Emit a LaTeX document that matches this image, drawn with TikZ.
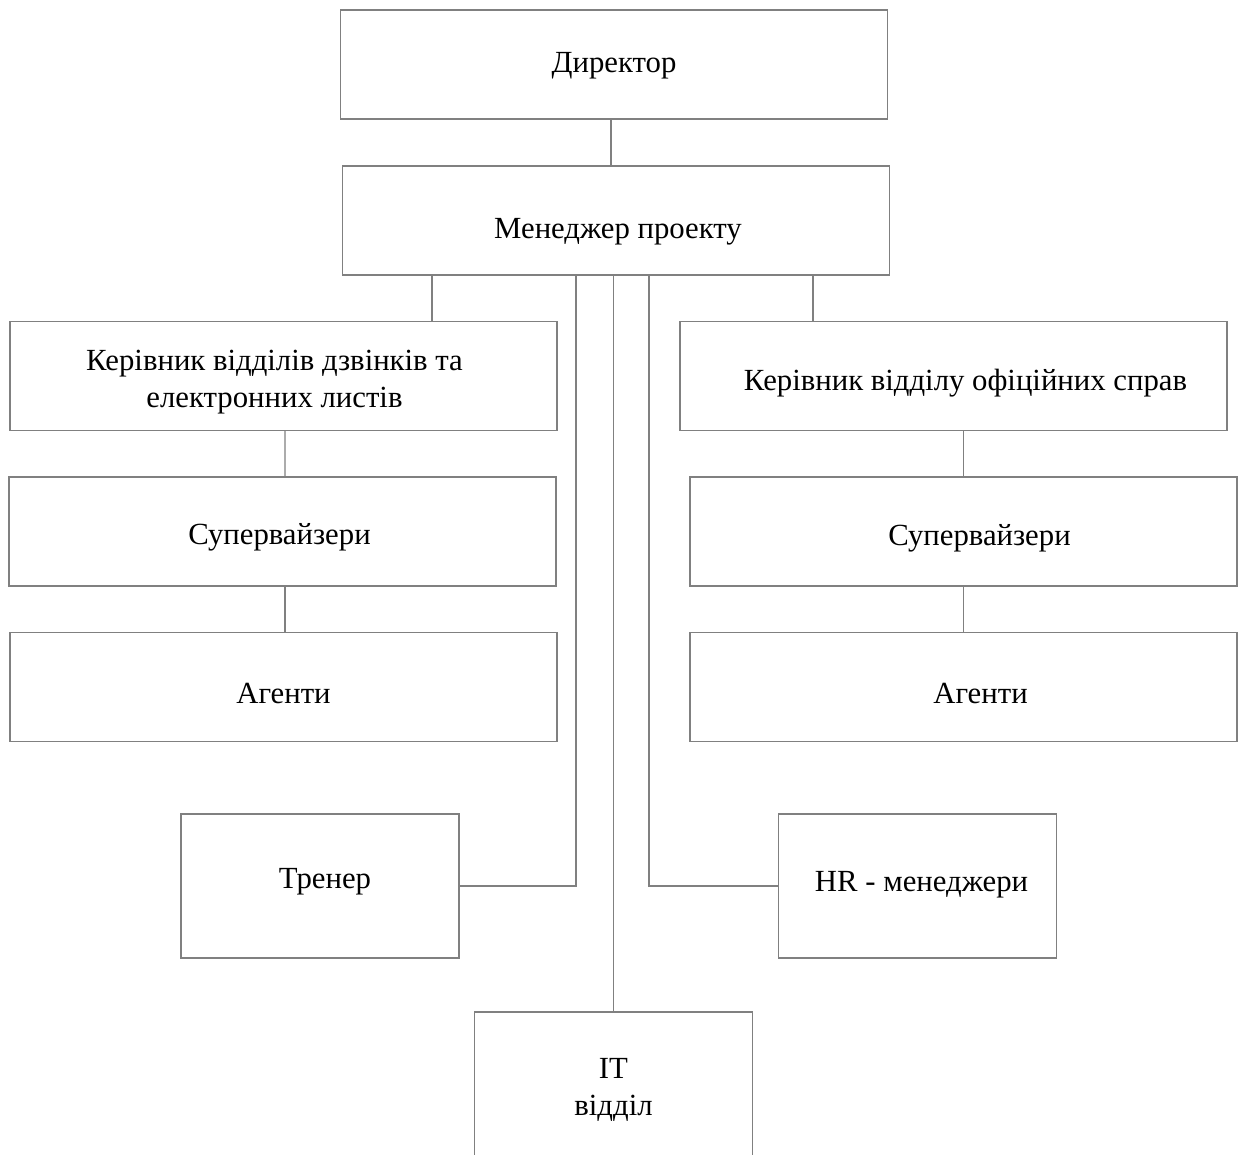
\documentclass[tikz,border=0pt]{standalone}
\usepackage{fontspec}
\setmainfont{Liberation Serif}
\usetikzlibrary{positioning}

\tikzset{
  unit/.style={draw=gray, line width=0.8pt, fill=white, inner sep=0pt},
  wide/.style={unit, minimum width=10.94cm, minimum height=2.18cm},
  small/.style={unit, minimum width=5.56cm, minimum height=2.88cm},
  txt/.style={align=center, inner sep=0pt, font=\fontsize{17.5}{21}\selectfont},
  link/.style={draw=gray, line width=0.7pt}
}

\begin{document}
\begin{tikzpicture}[x=0.02cm, y=-0.02cm]

    \useasboundingbox (0,0) rectangle (1240,1154);

    % top of the tree
    \node[wide, label={[txt, shift={(0,1)}]center:Директор}] (dir) at (614, 64.5) {};
    \node[wide, label={[txt, shift={(2,11)}]center:Менеджер проекту}] (mgr) at (616, 220.5) {};

    % left branch
    \node[wide, label={[txt, shift={(-9,6)}]center:Керівник відділів дзвінків та\\електронних листів}] (lhead) at (283.5, 376) {};
    \node[wide, label={[txt, shift={(-3,6)}]center:Супервайзери}] (lsup) at (282.5, 531.5) {};
    \node[wide, label={[txt, shift={(0,6)}]center:Агенти}] (lagt) at (283.5, 687) {};

    % right branch
    \node[wide, label={[txt, shift={(12,7)}]center:Керівник відділу офіційних справ}] (rhead) at (953.5, 376) {};
    \node[wide, label={[txt, shift={(16,7)}]center:Супервайзери}] (rsup) at (963.5, 531.5) {};
    \node[wide, label={[txt, shift={(17,6)}]center:Агенти}] (ragt) at (963.5, 687) {};

    % staff units
    \node[small, label={[txt, shift={(5,-4)}]center:Тренер}] (trainer) at (320, 886) {};
    \node[small, label={[txt, shift={(4,-1)}]center:HR - менеджери}] (hr) at (917.5, 886) {};
    \node[small, label={[txt, shift={(0,6)}]center:IT\\відділ}] (it) at (613.5, 1084) {};

    \coordinate (tapL) at (432, 275);
    \coordinate (tapT) at (576, 275);
    \coordinate (tapH) at (649, 275);
    \coordinate (tapR) at (813, 275);

    \draw[link] (dir.south -| mgr.north) ++(-5,0) -- ++(0,47);
    \draw[link] (tapL) -- (tapL |- lhead.north);
    \draw[link] (tapR) -- (tapR |- rhead.north);
    \draw[link] (tapT) |- (trainer.east);
    \draw[link] (tapH) |- (hr.west);
    \draw[link] (it.north |- mgr.south) -- (it.north);

    \draw[link] (lhead.south) ++(1.5,0) -- (lsup.north -| 285,0);
    \draw[link] (lsup.south -| 285,0) -- (lagt.north -| 285,0);
    \draw[link] (rsup.north |- rhead.south) -- (rsup.north);
    \draw[link] (rsup.south) -- (ragt.north);

  \end{tikzpicture}
\end{document}
